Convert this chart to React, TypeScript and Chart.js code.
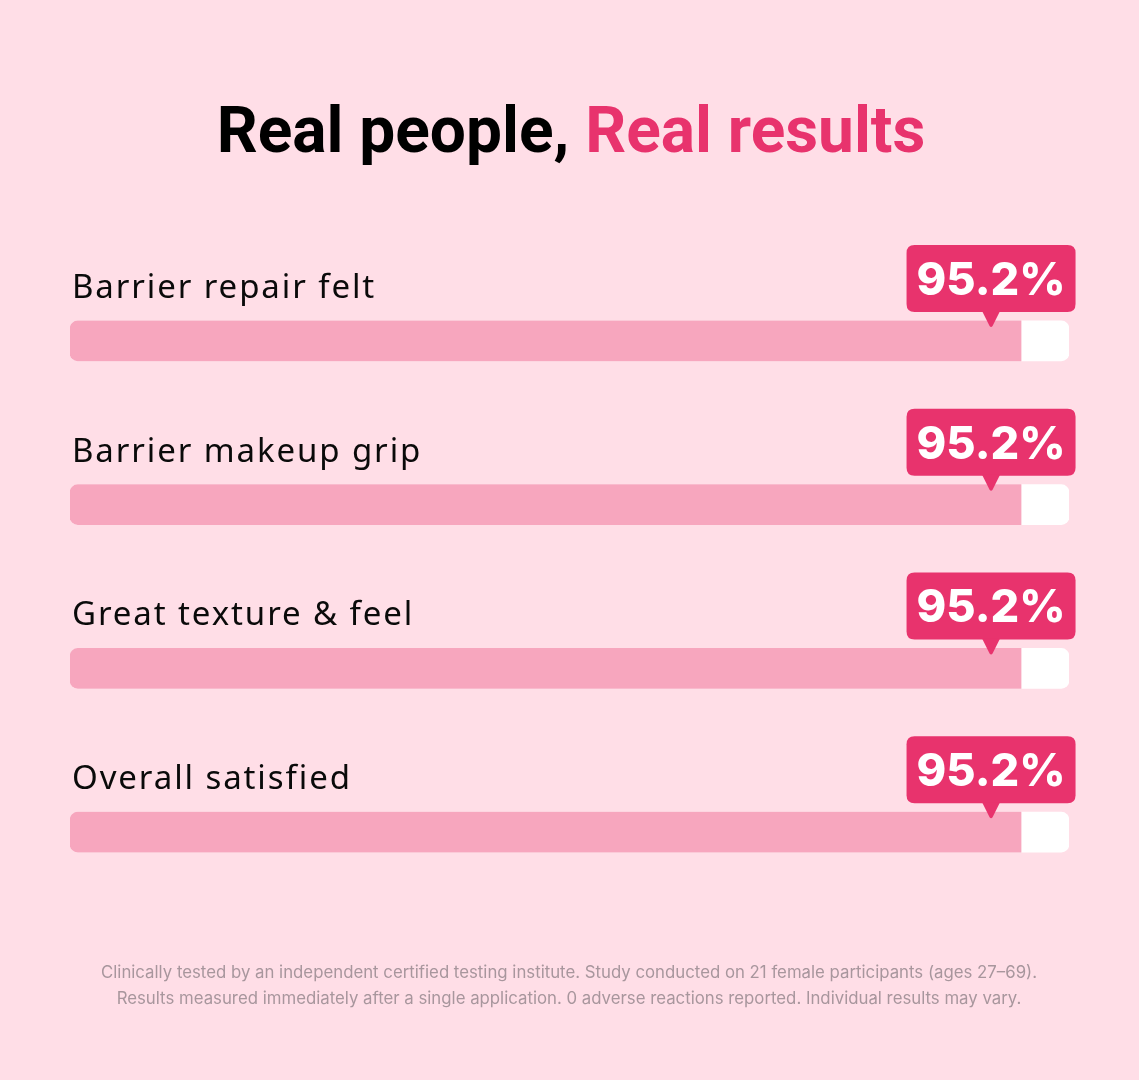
import { useEffect, useRef } from "react";
import { Chart, registerables } from "chart.js";

Chart.register(...registerables);

const categories = [
  "Barrier repair felt",
  "Barrier makeup grip",
  "Great texture & feel",
  "Overall satisfied",
];
const values = [95.2, 95.2, 95.2, 95.2];
const trackValues = [100, 100, 100, 100];
const valueLabels = ["95.2%", "95.2%", "95.2%", "95.2%"];
const titleDark = "Real people, ";
const titleAccent = "Real results";
const footnoteLines = [
  "Clinically tested by an independent certified testing institute. Study conducted on 21 female participants (ages 27\u201369).",
  "Results measured immediately after a single application. 0 adverse reactions reported. Individual results may vary.",
];

const BG = "#FFDEE7";
const FILL = "#F7A6BE";
const ACCENT = "#E8336D";
const TRACK = "#FFFFFF";

function roundRect(ctx: CanvasRenderingContext2D, x: number, y: number, w: number, h: number, r: number) {
  ctx.beginPath();
  ctx.moveTo(x + r, y);
  ctx.lineTo(x + w - r, y);
  ctx.quadraticCurveTo(x + w, y, x + w, y + r);
  ctx.lineTo(x + w, y + h - r);
  ctx.quadraticCurveTo(x + w, y + h, x + w - r, y + h);
  ctx.lineTo(x + r, y + h);
  ctx.quadraticCurveTo(x, y + h, x, y + h - r);
  ctx.lineTo(x, y + r);
  ctx.quadraticCurveTo(x, y, x + r, y);
  ctx.closePath();
}

const decorPlugin = {
  id: "decor",
  beforeDraw(chart: any) {
    const ctx = chart.ctx as CanvasRenderingContext2D;
    ctx.save();
    ctx.fillStyle = BG;
    ctx.fillRect(0, 0, chart.width, chart.height);
    // title
    ctx.font = "700 64px Roboto";
    ctx.textBaseline = "alphabetic";
    ctx.textAlign = "left";
    const w1 = ctx.measureText(titleDark).width;
    const w2 = ctx.measureText(titleAccent).width;
    const sx = 571 - (w1 + w2) / 2;
    ctx.fillStyle = "#000000";
    ctx.fillText(titleDark, sx, 152);
    ctx.fillStyle = ACCENT;
    ctx.fillText(titleAccent, sx + w1, 152);
    // footnote
    ctx.font = "400 16.8px Inter";
    ctx.fillStyle = "#A8969D";
    ctx.textAlign = "center";
    ctx.fillText(footnoteLines[0], 569, 978);
    ctx.fillText(footnoteLines[1], 569, 1004);
    ctx.restore();
  },
  afterDatasetsDraw(chart: any) {
    const ctx = chart.ctx as CanvasRenderingContext2D;
    const meta = chart.getDatasetMeta(0);
    const area = chart.chartArea;
    ctx.save();
    meta.data.forEach((bar: any, i: number) => {
      const y = bar.y;
      // category label
      ctx.font = "400 33px 'Noto Sans'";
      ctx.fillStyle = "#0A0A0A";
      ctx.textAlign = "left";
      ctx.textBaseline = "alphabetic";
      (ctx as any).letterSpacing = "1.9px";
      ctx.fillText(categories[i], area.left + 2, y - 43);
      (ctx as any).letterSpacing = "0px";
      // callout
      const tipX = bar.x - 30;
      const boxW = 169;
      const boxH = 67;
      const boxBottom = y - 29;
      const boxTop = boxBottom - boxH;
      ctx.fillStyle = ACCENT;
      roundRect(ctx, tipX - boxW / 2, boxTop, boxW, boxH, 8);
      ctx.fill();
      ctx.beginPath();
      ctx.moveTo(tipX - 9, boxBottom - 1);
      ctx.lineTo(tipX + 9, boxBottom - 1);
      ctx.lineTo(tipX + 1.5, y - 15);
      ctx.quadraticCurveTo(tipX, y - 13, tipX - 1.5, y - 15);
      ctx.closePath();
      ctx.fill();
      ctx.font = "800 45px Inter";
      ctx.fillStyle = "#FFFFFF";
      ctx.textAlign = "center";
      ctx.textBaseline = "alphabetic";
      ctx.fillText(valueLabels[i], tipX, boxTop + 50);
    });
    ctx.restore();
  },
};

export default function App() {
  const ref = useRef<HTMLCanvasElement | null>(null);
  useEffect(() => {
    document.body.style.margin = "0";
    document.body.style.background = BG;
    const canvas = ref.current;
    if (!canvas) return;
    const chart = new Chart(canvas, {
      type: "bar",
      data: {
        labels: categories,
        datasets: [
          {
            label: "Agree",
            data: values,
            backgroundColor: FILL,
            barThickness: 40,
            grouped: false,
            borderSkipped: false,
            borderRadius: { topLeft: 8, bottomLeft: 8, topRight: 0, bottomRight: 0 },
            order: 0,
          },
          {
            label: "Track",
            data: trackValues,
            backgroundColor: TRACK,
            barThickness: 40,
            grouped: false,
            borderSkipped: false,
            borderRadius: 8,
            order: 1,
          },
        ],
      },
      options: {
        indexAxis: "y",
        responsive: false,
        animation: false,
        devicePixelRatio: 1,
        layout: { padding: { left: 70, right: 70, top: 259, bottom: 166 } },
        scales: {
          x: { display: false, min: 0, max: 100, grid: { display: false } },
          y: { display: false, grid: { display: false } },
        },
        plugins: {
          legend: { display: false },
          tooltip: { enabled: false },
          title: { display: false },
        },
      },
      plugins: [decorPlugin],
    } as any);
    return () => chart.destroy();
  }, []);
  return (
    <div style={{ width: 1139, height: 1080, background: BG }}>
      <canvas ref={ref} width={1139} height={1080} style={{ display: "block" }} />
    </div>
  );
}
